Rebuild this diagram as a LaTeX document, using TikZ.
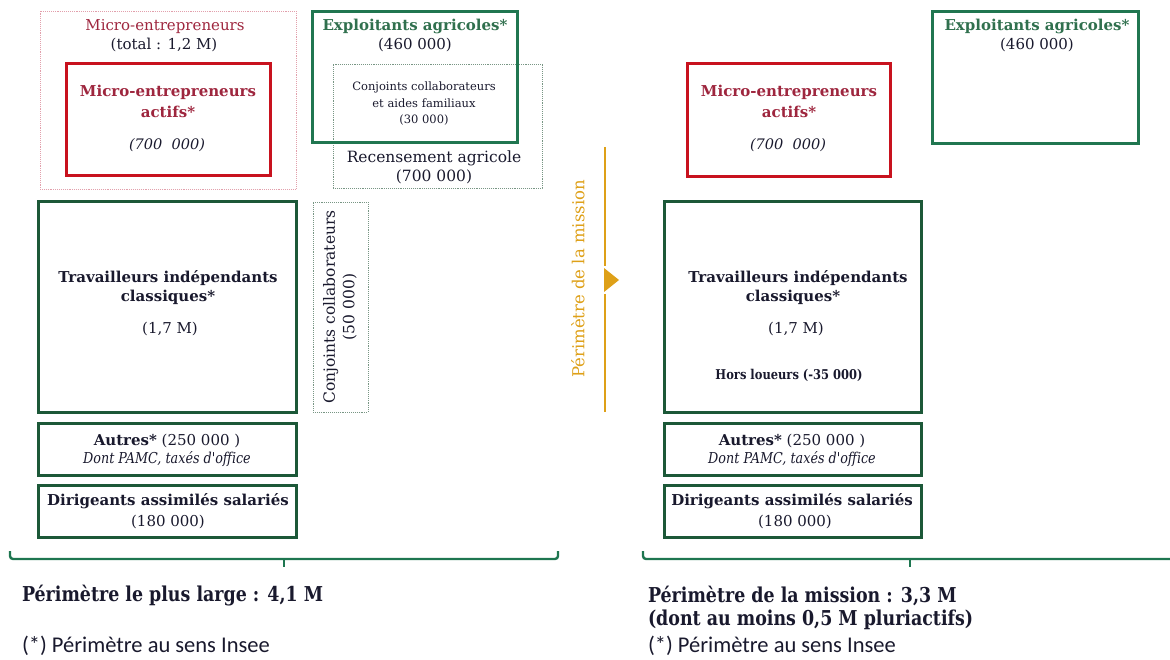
\documentclass[tikz,border=0pt]{standalone}
\usepackage{fontspec}
\setmainfont{DejaVu Serif}
\newfontfamily\narrowserif{DejaVu Serif}[FakeStretch=0.85]
\newfontfamily\calibfont{Carlito}
\definecolor{ink}{RGB}{25,25,45}
\definecolor{deepgreen}{RGB}{28,88,56}
\definecolor{agrigreen}{RGB}{32,118,80}
\definecolor{agritext}{RGB}{48,112,78}
\definecolor{microred}{RGB}{200,18,30}
\definecolor{microtext}{RGB}{158,38,62}
\definecolor{pinkline}{RGB}{226,160,172}
\definecolor{greyline}{RGB}{120,150,132}
\definecolor{gold}{RGB}{222,160,24}
\definecolor{bracegreen}{RGB}{30,118,80}

\newcommand{\fs}[1]{\fontsize{#1}{#1}\selectfont}

\begin{document}
\begin{tikzpicture}[x=1pt,y=-1pt,
  frame/.style={draw, inner sep=0pt, outer sep=0pt, anchor=north west},
  greenframe/.style={frame, draw=deepgreen, line width=3pt},
  agriframe/.style={frame, draw=agrigreen, line width=3pt},
  redframe/.style={frame, draw=microred, line width=3pt},
  pinkframe/.style={frame, draw=pinkline, line width=0.9pt, densely dotted},
  greyframe/.style={frame, draw=greyline, line width=0.9pt, densely dotted},
  txt/.style={inner sep=0pt, outer sep=0pt, text=ink, align=center, font=\fs{15}},
  bold/.style={txt, font=\fs{15}\bfseries},
  brace/.style={draw=bracegreen, line width=2.4pt, rounded corners=3pt},
  goldline/.style={draw=gold, line width=2pt}
]
\useasboundingbox (0,0) rectangle (1170,660);

% ---------- left column: widest perimeter ----------
\node[pinkframe, minimum width=256pt, minimum height=178pt] (microall) at (40,11) {};
\node[redframe, minimum width=204pt, minimum height=112pt] (microact) at (66,64) {};
\node[greyframe, minimum width=209pt, minimum height=124pt] (recens) at (333,64) {};
\node[agriframe, minimum width=205pt, minimum height=131pt] (agriL) at (312,12) {};
\node[greenframe, minimum width=258pt, minimum height=210pt] (travL) at (38,202) {};
\node[greyframe, minimum width=55pt, minimum height=210pt] (conj) at (313,202) {};
\node[greenframe, minimum width=258pt, minimum height=52pt] (autresL) at (38,423) {};
\node[greenframe, minimum width=258pt, minimum height=52pt] (dirL) at (38,485) {};

\node[txt, text=microtext] (tallA) at (165,27) {Micro-entrepreneurs};
\node[txt] (tallB) at (164,45) {(total : 1,2 M)};
\node[bold, text=microtext] (tactA) at (168,92) {Micro-entrepreneurs};
\node[bold, text=microtext] (tactB) at (168,112) {actifs*};
\node[txt, font=\fs{14.5}\itshape] (tactC) at (167,145) {(700~~000)};

\node[bold, text=agritext] (tagriA) at (415,26) {Exploitants agricoles*};
\node[txt] (tagriB) at (415,45) {(460 000)};
\node[txt, font=\fs{11.5}, align=center] (tconjA) at (424,104)
  {Conjoints collaborateurs\\[5pt]et aides familiaux\\[5pt](30 000)};
\node[txt, font=\fs{15.5}] (trecA) at (434,158) {Recensement agricole};
\node[txt, font=\fs{15.5}] (trecB) at (434,177) {(700 000)};

\node[bold] (ttravA) at (168,278) {Travailleurs indépendants};
\node[bold] (ttravB) at (168,297) {classiques*};
\node[txt] (ttravC) at (170,329) {(1,7 M)};
\node[txt, rotate=90, font=\fs{15.5}, align=center] (tconj) at (340,307)
  {Conjoints collaborateurs\\[4pt](50 000)};

\node[txt] (tautA) at (167,441) {\textbf{Autres*} (250 000 )};
\node[txt, font=\narrowserif\fs{15}\itshape] (tautB) at (167,459) {Dont PAMC, taxés d'office};
\node[bold] (tdirA) at (168,501) {Dirigeants assimilés salariés};
\node[txt] (tdirB) at (168,522) {(180 000)};

% bracket under the widest perimeter
\coordinate (bLa) at (10,551);
\coordinate (bLb) at (558,551);
\coordinate (bLm) at (284,559);
\draw[brace] (bLa) |- (bLm) -| (bLb);
\draw[brace] (bLm) -- ++(0,8);

% ---------- arrow towards the mission perimeter ----------
\coordinate (gTop) at (605,147);
\coordinate (gMidA) at (605,266);
\coordinate (gMidB) at (605,294);
\coordinate (gBot) at (605,412);
\draw[goldline] (gTop) -- (gMidA);
\draw[goldline] (gMidB) -- (gBot);
\fill[gold] (604,268) -- (619,280) -- (604,292) -- cycle;
\node[txt, rotate=90, text=gold, font=\fs{16.5}] (tmission) at (578,279) {Périmètre de la mission};

% ---------- right column: mission perimeter ----------
\node[redframe, minimum width=203pt, minimum height=113pt] (microactR) at (687,64) {};
\node[agriframe, minimum width=206pt, minimum height=132pt] (agriR) at (932,12) {};
\node[greenframe, minimum width=257pt, minimum height=210pt] (travR) at (664,202) {};
\node[greenframe, minimum width=257pt, minimum height=52pt] (autresR) at (664,423) {};
\node[greenframe, minimum width=257pt, minimum height=52pt] (dirR) at (664,485) {};

\node[bold, text=microtext] (rtactA) at (789,92) {Micro-entrepreneurs};
\node[bold, text=microtext] (rtactB) at (789,112) {actifs*};
\node[txt, font=\fs{14.5}\itshape] (rtactC) at (788,145) {(700~~000)};

\node[bold, text=agritext] (rtagriA) at (1037,26) {Exploitants agricoles*};
\node[txt] (rtagriB) at (1037,45) {(460 000)};

\node[bold] (rttravA) at (798,278) {Travailleurs indépendants};
\node[bold] (rttravB) at (793,297) {classiques*};
\node[txt] (rttravC) at (796,329) {(1,7 M)};
\node[txt, font=\narrowserif\fs{13.5}\bfseries] (rttravD) at (789,375) {Hors loueurs (-35 000)};

\node[txt] (rtautA) at (792,441) {\textbf{Autres*} (250 000 )};
\node[txt, font=\narrowserif\fs{15}\itshape] (rtautB) at (792,459) {Dont PAMC, taxés d'office};
\node[bold] (rtdirA) at (792,501) {Dirigeants assimilés salariés};
\node[txt] (rtdirB) at (795,522) {(180 000)};

% bracket under the mission perimeter
\coordinate (bRa) at (643,551);
\coordinate (bRm) at (910,559);
\coordinate (bRe) at (1172,559);
\draw[brace] (bRa) |- (bRe);
\draw[brace] (bRm) -- ++(0,8);

% ---------- captions ----------
\node[txt, anchor=west, font=\narrowserif\fs{20.5}\bfseries] (capL) at (22,596) {Périmètre le plus large : 4,1 M};
\node[txt, anchor=west, font=\calibfont\fs{22.5}] (noteL) at (22,646) {(*) Périmètre au sens Insee};
\node[txt, anchor=west, font=\narrowserif\fs{20.5}\bfseries] (capR) at (648,596) {Périmètre de la mission : 3,3 M};
\node[txt, anchor=west, font=\narrowserif\fs{20.5}\bfseries] (capR2) at (648,620) {(dont au moins 0,5 M pluriactifs)};
\node[txt, anchor=west, font=\calibfont\fs{22.5}] (noteR) at (648,646) {(*) Périmètre au sens Insee};
\end{tikzpicture}
\end{document}
